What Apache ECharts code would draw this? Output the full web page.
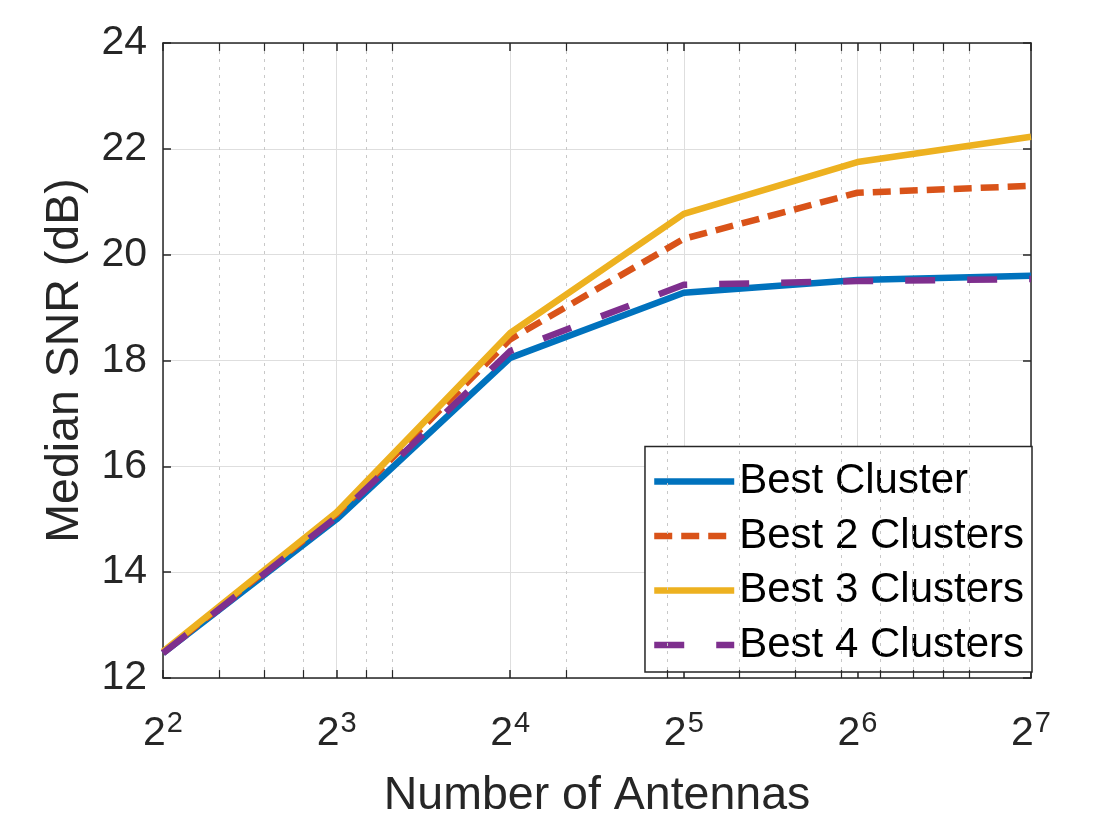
<!DOCTYPE html>
<html>
<head>
<meta charset="utf-8">
<script src="https://cdn.jsdelivr.net/npm/echarts@6/dist/echarts.min.js"></script>
<style>
  html, body { margin: 0; padding: 0; background: #fff; }
  #chart { width: 1094px; height: 822px; }
</style>
</head>
<body>
<div id="chart"></div>
<script>
// antenna counts (log2 x axis)
const antennas = [4, 8, 16, 32, 64, 128]
const seriesNames = ['Best Cluster', 'Best 2 Clusters', 'Best 3 Clusters', 'Best 4 Clusters']
const bestCluster = [12.47, 15.0, 18.05, 19.28, 19.52, 19.6]
const best2Clusters = [12.48, 15.1, 18.4, 20.3, 21.17, 21.3]
const best3Clusters = [12.5, 15.13, 18.52, 20.77, 21.75, 22.23]
const best4Clusters = [12.47, 15.04, 18.18, 19.43, 19.5, 19.54]
// MATLAB style minor ticks of a log axis
const minorTicks = [5, 6, 7, 9, 10, 20, 30, 40, 50, 60, 70, 80, 90, 100]
const yMin = 12, yMax = 24, yStep = 2

const FONT = '"Liberation Sans", Arial, Helvetica, sans-serif'
const AXIS_COLOR = '#262626'

const colors = ['#0072BD', '#D95319', '#EDB120', '#7E2F8E']
const dashes = ['solid', [18, 9], 'solid', [30, 32]]
const values = [bestCluster, best2Clusters, best3Clusters, best4Clusters]

const chart = echarts.init(document.getElementById('chart'))

const pairs = arr => antennas.map((a, i) => [a, arr[i]])

// minor grid + minor ticks, drawn as markLines on the log scale
const tickLen = 0.15
const minorMarks = []
minorTicks.forEach(v => {
    minorMarks.push([{ coord: [v, yMin] }, { coord: [v, yMax] }])
})
const minorTickMarks = []
minorTicks.forEach(v => {
    minorTickMarks.push([{ coord: [v, yMin] }, { coord: [v, yMin + tickLen] }])
    minorTickMarks.push([{ coord: [v, yMax] }, { coord: [v, yMax - tickLen] }])
})

const series = values.map((arr, i) => ({
    name: seriesNames[i],
    type: 'line',
    data: pairs(arr),
    symbol: 'none',
    showSymbol: false,
    z: 10 + i,
    lineStyle: { color: colors[i], width: 6.5, type: dashes[i], cap: 'butt', join: 'round' },
    itemStyle: { color: colors[i] },
    emphasis: { disabled: true },
    animation: false
}))

series.push({
    name: 'minorGrid',
    type: 'line',
    data: [],
    z: 1,
    silent: true,
    animation: false,
    markLine: {
        silent: true,
        symbol: 'none',
        animation: false,
        label: { show: false },
        lineStyle: { color: '#c8c8c8', width: 1, type: [3, 5] },
        data: minorMarks
    }
})
series.push({
    name: 'minorTicks',
    type: 'line',
    data: [],
    z: 2,
    silent: true,
    animation: false,
    markLine: {
        silent: true,
        symbol: 'none',
        animation: false,
        label: { show: false },
        lineStyle: { color: AXIS_COLOR, width: 1.2, type: 'solid' },
        data: minorTickMarks
    }
})

const xBase = {
    type: 'log',
    logBase: 2,
    min: 4,
    max: 128,
    splitNumber: 5,
    axisLine: { show: true, onZero: false, lineStyle: { color: AXIS_COLOR, width: 1.5 } },
    axisTick: { show: true, inside: true, length: 8, lineStyle: { color: AXIS_COLOR, width: 1.5 } }
}

const option = {
    animation: false,
    textStyle: { fontFamily: FONT },
    grid: { left: 163, right: 63, top: 43, bottom: 144, containLabel: false, outerBoundsMode: 'none' },
    legend: {
        data: seriesNames,
        orient: 'vertical',
        right: 62,
        bottom: 150,
        backgroundColor: '#fff',
        borderColor: AXIS_COLOR,
        borderWidth: 1.5,
        borderRadius: 0,
        padding: [14, 8, 6, 6],
        itemGap: 12.5,
        itemWidth: 80,
        itemHeight: 14,
        selectedMode: false,
        itemStyle: { opacity: 0 },
        lineStyle: { width: 'inherit' },
        textStyle: { fontFamily: FONT, fontSize: 42, color: '#000', lineHeight: 42 }
    },
    xAxis: [
        Object.assign({}, xBase, {
            position: 'bottom',
            name: 'Number of Antennas',
            nameLocation: 'middle',
            nameGap: 95,
            nameTextStyle: { fontFamily: FONT, fontSize: 46.5, color: AXIS_COLOR },
            splitLine: { show: true, lineStyle: { color: '#dedede', width: 1 } },
            axisLabel: {
                margin: 32,
                color: AXIS_COLOR,
                formatter: v => '{b|2}{s|' + Math.round(Math.log2(v)) + '}',
                rich: {
                    b: { fontFamily: FONT, fontSize: 41, color: AXIS_COLOR, lineHeight: 44, verticalAlign: 'bottom' },
                    s: { fontFamily: FONT, fontSize: 29, color: AXIS_COLOR, lineHeight: 44, padding: [0, 0, 16, 1], verticalAlign: 'bottom' }
                }
            }
        }),
        Object.assign({}, xBase, {
            position: 'top',
            splitLine: { show: false },
            axisLabel: { show: false }
        })
    ],
    yAxis: [
        {
            type: 'value',
            min: yMin,
            max: yMax,
            interval: yStep,
            position: 'left',
            name: 'Median SNR (dB)',
            nameLocation: 'middle',
            nameGap: 74,
            nameTextStyle: { fontFamily: FONT, fontSize: 46.5, color: AXIS_COLOR },
            axisLine: { show: true, lineStyle: { color: AXIS_COLOR, width: 1.5 } },
            axisTick: { show: true, inside: true, length: 8, lineStyle: { color: AXIS_COLOR, width: 1.5 } },
            axisLabel: { margin: 16, fontFamily: FONT, fontSize: 41, color: AXIS_COLOR },
            splitLine: { show: true, lineStyle: { color: '#dedede', width: 1 } }
        },
        {
            type: 'value',
            min: yMin,
            max: yMax,
            interval: yStep,
            position: 'right',
            axisLine: { show: true, lineStyle: { color: AXIS_COLOR, width: 1.5 } },
            axisTick: { show: true, inside: true, length: 8, lineStyle: { color: AXIS_COLOR, width: 1.5 } },
            axisLabel: { show: false },
            splitLine: { show: false }
        }
    ],
    series: series
}

chart.setOption(option)
</script>
</body>
</html>
